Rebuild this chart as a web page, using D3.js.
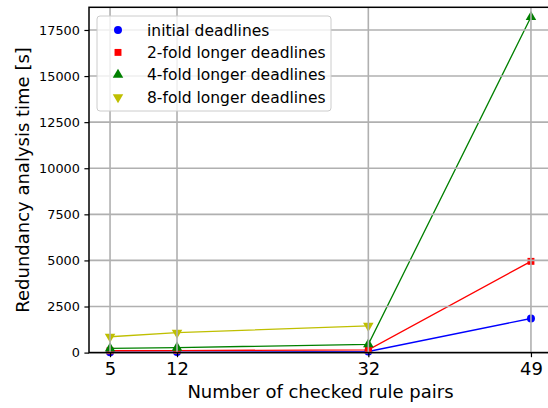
<!DOCTYPE html>
<html>
<head>
<meta charset="utf-8">
<script src="https://cdn.jsdelivr.net/npm/d3@7"></script>
<style>
  body { margin: 0; background: #fff; }
  svg { font-family: "DejaVu Sans", sans-serif; }
</style>
</head>
<body>
<div id="chart"></div>
<script>
// data
const rulePairs = [5, 12, 32, 49];
const seriesNames = ["initial deadlines", "2-fold longer deadlines", "4-fold longer deadlines", "8-fold longer deadlines"];
const initialTimes = [20, 30, 60, 1850];
const twoFoldTimes = [100, 110, 150, 4950];
const fourFoldTimes = [230, 270, 450, 18200];
const eightFoldTimes = [860, 1080, 1450, null];
const yTicks = [0, 2500, 5000, 7500, 10000, 12500, 15000, 17500];

const colors = ["#0000ff", "#ff0000", "#008000", "#bfbf00"];
const shapes = [d3.symbolCircle, d3.symbolSquare, d3.symbolTriangle, "down"];
const allSeries = [initialTimes, twoFoldTimes, fourFoldTimes, eightFoldTimes];

const margin = { top: 7.3, right: -4, bottom: 55.4, left: 89 };
const W = 548, H = 408;
const width = W - margin.left - margin.right;
const height = H - margin.top - margin.bottom;

const svg = d3.select("#chart")
    .append("svg")
    .attr("width", W)
    .attr("height", H)
    .append("g")
    .attr("transform", "translate(" + margin.left + "," + margin.top + ")");

const x = d3.scaleLinear().domain([2.8, 51.2]).range([0, width]);
const y = d3.scaleLinear().domain([0, 18730]).range([height, 0]);

function marker(sel, shape, size) {
    if (shape === "down") {
        sel.attr("d", d3.symbol(d3.symbolTriangle, size)()).attr("transform", sel.attr("transform") + " rotate(180)");
    } else {
        sel.attr("d", d3.symbol(shape, size)());
    }
}

// lines + markers
allSeries.forEach((vals, i) => {
    const pts = rulePairs.map((p, k) => ({ x: p, y: vals[k] })).filter(d => d.y != null);
    svg.append("path")
        .datum(pts)
        .attr("fill", "none")
        .attr("stroke", colors[i])
        .attr("stroke-width", 1.3)
        .attr("d", d3.line().x(d => x(d.x)).y(d => y(d.y)));
    pts.forEach(d => {
        const m = svg.append("path")
            .attr("fill", colors[i])
            .attr("transform", "translate(" + x(d.x) + "," + y(d.y) + ")");
        marker(m, shapes[i], i === 0 ? 50 : 48);
    });
});

// grid (drawn on top, as in the picture)
svg.append("g").selectAll("line").data(rulePairs).enter().append("line")
    .attr("x1", d => x(d)).attr("x2", d => x(d))
    .attr("y1", 0).attr("y2", height)
    .attr("stroke", "#b0b0b0").attr("stroke-width", 1.6);
svg.append("g").selectAll("line").data(yTicks).enter().append("line")
    .attr("x1", 0).attr("x2", width)
    .attr("y1", d => y(d)).attr("y2", d => y(d))
    .attr("stroke", "#b0b0b0").attr("stroke-width", 1.6);

// axes
const xAxis = svg.append("g")
    .attr("transform", "translate(0," + height + ")")
    .call(d3.axisBottom(x).tickValues(rulePairs).tickFormat(d3.format("d")).tickSize(4.6).tickPadding(4.6).tickSizeOuter(0));
const yAxis = svg.append("g")
    .call(d3.axisLeft(y).tickValues(yTicks).tickFormat(d3.format("d")).tickSize(4.6).tickPadding(4.6).tickSizeOuter(0));
[xAxis, yAxis].forEach(a => {
    a.select(".domain").remove();
    a.selectAll("line").attr("stroke", "#000").attr("stroke-width", 1.2);
    a.selectAll("text").attr("font-size", 12.8).attr("font-family", "DejaVu Sans").attr("fill", "#000");
});
xAxis.selectAll("text").attr("font-size", 18);

// spines
svg.append("rect")
    .attr("width", width).attr("height", height)
    .attr("fill", "none").attr("stroke", "#000").attr("stroke-width", 1.5);

// axis labels
svg.append("text")
    .attr("x", (x(2.8) + x(51.2)) / 2)
    .attr("y", 398 - margin.top)
    .attr("text-anchor", "middle")
    .attr("font-size", 18)
    .text("Number of checked rule pairs");
svg.append("text")
    .attr("transform", "translate(" + (29 - margin.left) + "," + (height / 2) + ") rotate(-90)")
    .attr("text-anchor", "middle")
    .attr("font-size", 18)
    .text("Redundancy analysis time [s]");

// legend
const legend = svg.append("g").attr("transform", "translate(" + (97 - margin.left) + "," + (16 - margin.top) + ")");
legend.append("rect")
    .attr("width", 234).attr("height", 95).attr("rx", 3)
    .attr("fill", "#fff").attr("fill-opacity", 0.8)
    .attr("stroke", "#cccccc").attr("stroke-width", 1);
seriesNames.forEach((name, i) => {
    const row = legend.append("g").attr("transform", "translate(0," + (14 + i * 22.4) + ")");
    const m = row.append("path")
        .attr("fill", colors[i])
        .attr("transform", "translate(21,0)");
    marker(m, shapes[i], i === 0 ? 50 : 48);
    row.append("text")
        .attr("x", 50).attr("y", 5.6)
        .attr("font-size", 15.5)
        .text(name);
});
</script>
</body>
</html>
